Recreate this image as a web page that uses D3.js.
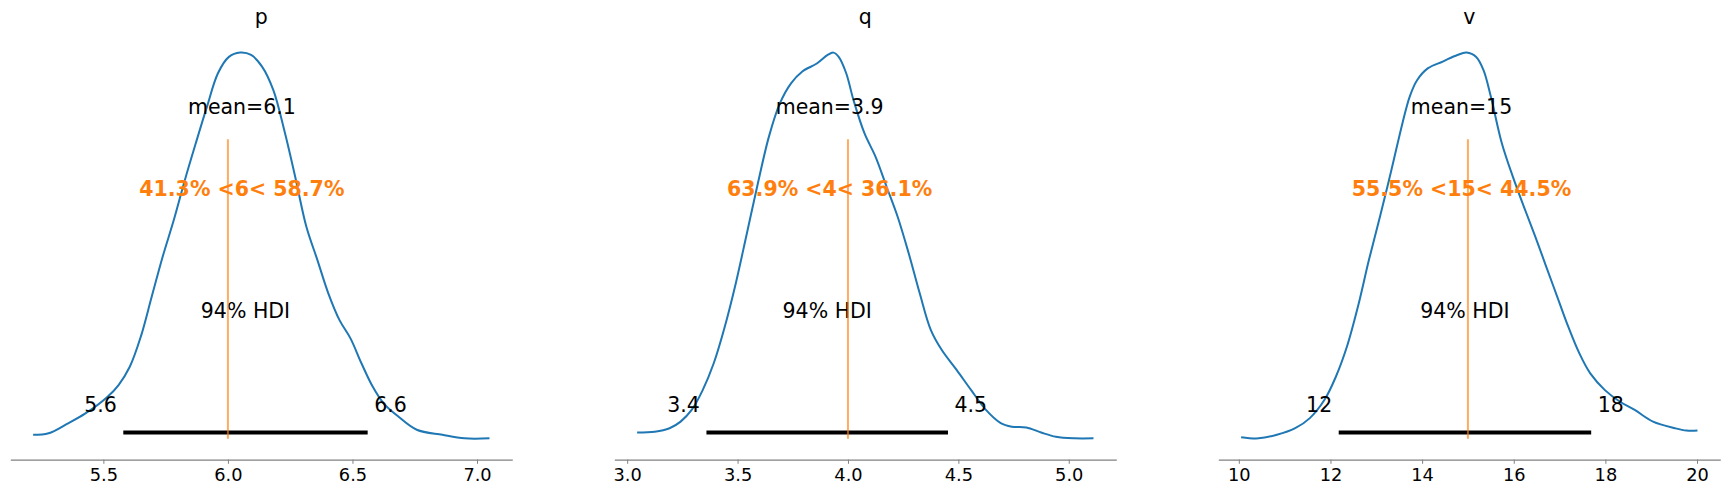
<!DOCTYPE html>
<html><head><meta charset="utf-8">
<script src="https://cdn.jsdelivr.net/npm/d3@7"></script>
<style>
body{margin:0;background:#fff}
svg{display:block}
text{font-family:"DejaVu Sans",sans-serif}
</style>
</head><body><svg id="c" width="1731" height="497"></svg>
<script>
// ---- data (density normalised to its peak) ----
const names = ["p", "q", "v"];

const pGrid = [5.218,5.280,5.354,5.428,5.517,5.561,5.606,5.650,5.694,5.738,5.783,5.827,5.871,5.916,5.960,6.004,6.049,6.093,6.137,6.182,6.226,6.270,6.315,6.359,6.403,6.448,6.492,6.536,6.581,6.625,6.684,6.758,6.861,6.950,7.050];
const pDens = [0.015,0.019,0.043,0.070,0.113,0.143,0.190,0.267,0.370,0.473,0.568,0.670,0.765,0.859,0.945,0.987,0.998,0.992,0.962,0.902,0.799,0.679,0.550,0.465,0.379,0.310,0.263,0.199,0.139,0.096,0.062,0.028,0.015,0.006,0.006];

const qGrid = [3.045,3.125,3.192,3.242,3.292,3.342,3.392,3.442,3.492,3.542,3.592,3.642,3.692,3.742,3.792,3.859,3.908,3.934,3.958,3.992,4.025,4.075,4.125,4.175,4.225,4.275,4.325,4.375,4.425,4.492,4.558,4.625,4.692,4.742,4.808,4.875,4.942,5.025,5.112];
const qDens = [0.021,0.023,0.032,0.049,0.079,0.130,0.199,0.293,0.405,0.533,0.662,0.782,0.868,0.919,0.949,0.970,0.992,0.998,0.987,0.945,0.876,0.790,0.730,0.653,0.576,0.482,0.379,0.285,0.233,0.182,0.130,0.079,0.045,0.036,0.034,0.021,0.010,0.006,0.006];

const vGrid = [10.05,10.43,10.83,11.23,11.55,11.87,12.12,12.36,12.60,12.84,13.08,13.33,13.57,13.73,13.89,14.13,14.45,14.77,14.97,15.18,15.34,15.50,15.74,15.98,16.22,16.47,16.71,16.95,17.19,17.43,17.67,17.99,18.32,18.64,19.04,19.52,19.77,20.01];
const vDens = [0.009,0.006,0.015,0.032,0.058,0.105,0.165,0.242,0.345,0.465,0.576,0.696,0.816,0.885,0.927,0.958,0.975,0.992,0.998,0.987,0.953,0.885,0.765,0.679,0.602,0.525,0.447,0.370,0.293,0.225,0.173,0.130,0.100,0.079,0.049,0.032,0.026,0.026];

const grids = [pGrid, qGrid, vGrid];
const dens = [pDens, qDens, vDens];

const means = [6.056, 3.917, 14.86];
const meanLabels = ["mean=6.1", "mean=3.9", "mean=15"];
const refVals = [6, 4, 15];
const refLabels = ["41.3% <6< 58.7%", "63.9% <4< 36.1%", "55.5% <15< 44.5%"];
const hdiLow = [5.580, 3.359, 12.18];
const hdiHigh = [6.561, 4.453, 17.69];
const hdiLowLabels = ["5.6", "3.4", "12"];
const hdiHighLabels = ["6.6", "4.5", "18"];
const hdiText = "94% HDI";
const tickVals = [[5.5, 6.0, 6.5, 7.0], [3.0, 3.5, 4.0, 4.5, 5.0], [10, 12, 14, 16, 18, 20]];
const tickFmt = [d3.format(".1f"), d3.format(".1f"), d3.format("d")];

// ---- layout ----
const axLeft = [10.3, 614.3, 1218.3];
const axWidth = 502;
const axTop = 32.4, axBottom = 460.1;
const labelSize = 20.5, tickSize = 17.8;
const C0 = "#1f77b4", C1 = "#ff7f0e";

const svg = d3.select("#c");

names.forEach((name, i) => {
  const g = svg.append("g");
  const xs = grids[i];
  const lo = d3.min(xs), hi = d3.max(xs), m = 0.05 * (hi - lo);
  const x = d3.scaleLinear().domain([lo - m, hi + m]).range([axLeft[i], axLeft[i] + axWidth]);
  const y = d3.scaleLinear().domain([-0.05, 1.05]).range([axBottom, axTop]);
  const frac = d3.scaleLinear().domain([0, 1]).range([axBottom, axTop]);
  const plotHeight = y.domain()[1];

  // axis
  const axis = d3.axisBottom(x).tickValues(tickVals[i]).tickFormat(tickFmt[i])
    .tickSizeOuter(0).tickSizeInner(4.2).tickPadding(4.5);
  const ag = g.append("g").attr("transform", `translate(0,${axBottom - 0.5})`).call(axis);
  ag.select(".domain").attr("stroke", "#808080").attr("stroke-width", 1.1);
  ag.selectAll(".tick line").attr("stroke", "#808080").attr("stroke-width", 1);
  ag.selectAll(".tick text").attr("fill", "#000").style("font-size", tickSize + "px")
    .style("font-family", "DejaVu Sans");

  // title
  g.append("text").attr("x", axLeft[i] + axWidth / 2).attr("y", axTop - 8.3)
    .attr("text-anchor", "middle").style("font-size", labelSize + "px").text(name);

  // KDE
  const pts = xs.map((v, k) => [v, dens[i][k]]);
  g.append("path").datum(pts)
    .attr("d", d3.line().x(d => x(d[0])).y(d => y(d[1])).curve(d3.curveCatmullRom.alpha(0.5)))
    .attr("fill", "none").attr("stroke", C0).attr("stroke-width", 2);

  // HDI bar
  g.append("line").attr("x1", x(hdiLow[i])).attr("x2", x(hdiHigh[i]))
    .attr("y1", y(plotHeight * 0.02)).attr("y2", y(plotHeight * 0.02))
    .attr("stroke", "#000").attr("stroke-width", 4.2);
  g.append("text").attr("x", x(hdiLow[i])).attr("y", y(plotHeight * 0.07))
    .attr("dx", -0.318 * labelSize).attr("text-anchor", "end")
    .style("font-size", labelSize + "px").text(hdiLowLabels[i]);
  g.append("text").attr("x", x(hdiHigh[i])).attr("y", y(plotHeight * 0.07))
    .attr("dx", 0.318 * labelSize).attr("text-anchor", "start")
    .style("font-size", labelSize + "px").text(hdiHighLabels[i]);
  g.append("text").attr("x", x((hdiLow[i] + hdiHigh[i]) / 2)).attr("y", y(plotHeight * 0.3))
    .attr("text-anchor", "middle").style("font-size", labelSize + "px").text(hdiText);

  // ref line
  g.append("line").attr("x1", x(refVals[i])).attr("x2", x(refVals[i]))
    .attr("y1", frac(0.05)).attr("y2", frac(0.75))
    .attr("stroke", C1).attr("stroke-opacity", 0.65).attr("stroke-width", 2);
  g.append("text").attr("x", x(means[i])).attr("y", y(plotHeight * 0.6))
    .attr("text-anchor", "middle").attr("fill", C1).style("font-weight", "bold")
    .style("font-size", labelSize + "px").text(refLabels[i]);

  // point estimate
  g.append("text").attr("x", x(means[i])).attr("y", y(plotHeight * 0.8))
    .attr("text-anchor", "middle").style("font-size", labelSize + "px").text(meanLabels[i]);
});
</script>
</body></html>
